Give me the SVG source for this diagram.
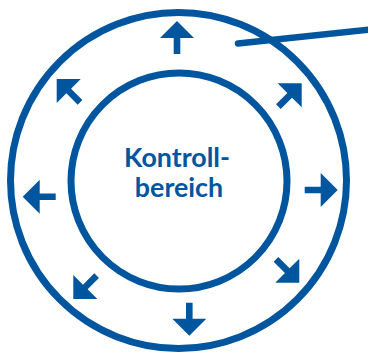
<svg xmlns="http://www.w3.org/2000/svg" width="368" height="354" viewBox="0 0 368 354">
<style>
.ring{fill:none;stroke:#00559F;stroke-width:7}
.arr{fill:#00559F}
.lead{fill:none;stroke:#00559F;stroke-width:6.5;stroke-linecap:round}
.lbl{font-family:Lato,"Open Sans","Liberation Sans",sans-serif;font-weight:bold;font-size:26.8px;fill:#00559F;text-anchor:middle}
</style>
<defs>
<path id="a" d="M0,0 L17,17 L3.3,17 L3.3,33 L-3.3,33 L-3.3,17 L-17,17 Z"/>
</defs>
<g id="outer-ring"><circle class="ring" cx="178.5" cy="180.5" r="168"/></g>
<g id="inner-ring"><circle class="ring" cx="179" cy="181" r="108"/>
<text class="lbl" x="177" y="167">Kontroll-</text>
<text class="lbl" x="179" y="197">bereich</text></g>
<g id="arrows" class="arr">
<use href="#a" transform="translate(177,21)"/>
<use href="#a" transform="translate(301.7,83.3) rotate(45)"/>
<use href="#a" transform="translate(337.7,190) rotate(90)"/>
<use href="#a" transform="translate(299.3,282.7) rotate(135)"/>
<use href="#a" transform="translate(189.3,335.7) rotate(180)"/>
<use href="#a" transform="translate(73.3,299) rotate(225)"/>
<use href="#a" transform="translate(22.7,196.7) rotate(270)"/>
<use href="#a" transform="translate(56.7,79) rotate(315)"/>
</g>
<g id="connectors"><line class="lead" x1="238" y1="43.5" x2="370" y2="29.5"/></g>
</svg>
